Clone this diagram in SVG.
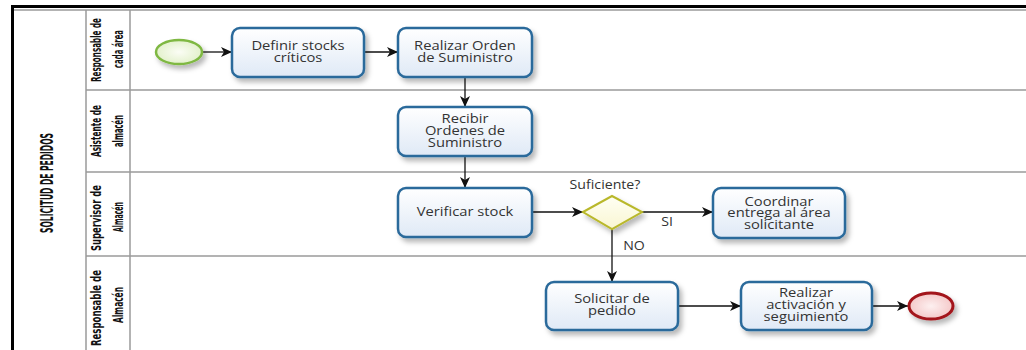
<svg xmlns="http://www.w3.org/2000/svg" width="1026" height="350" viewBox="0 0 1026 350">
<style>
.lane{stroke:#9a9a9a;stroke-width:1.5;fill:none}
.task{fill:url(#tg);stroke:#2b6a9b;stroke-width:2.5}
.tt{font-family:"Open Sans","Noto Sans",sans-serif;font-size:12.5px;fill:#333;text-anchor:middle}
.lbl{font-family:"Open Sans","Noto Sans",sans-serif;font-size:12px;fill:#333;text-anchor:middle}
.ln{font-family:"Liberation Sans Narrow","DejaVu Sans Condensed",sans-serif;font-weight:bold;font-size:11px;fill:#111;text-anchor:middle}
.pt{font-family:"Liberation Sans Narrow","DejaVu Sans Condensed",sans-serif;font-weight:bold;font-size:13px;fill:#111;text-anchor:middle}
.con{stroke:#111;stroke-width:1.3;fill:none;marker-end:url(#ah)}
</style>
<defs>
<linearGradient id="tg" x1="0" y1="0" x2="0" y2="1"><stop offset="0" stop-color="#ffffff"/><stop offset="1" stop-color="#dfe9f6"/></linearGradient>
<radialGradient id="sg"><stop offset="0" stop-color="#fbfdf5"/><stop offset="1" stop-color="#e3f1cc"/></radialGradient>
<radialGradient id="eg"><stop offset="0" stop-color="#fdf0f0"/><stop offset="1" stop-color="#f4c9c9"/></radialGradient>
<linearGradient id="dg" x1="0" y1="0" x2="0" y2="1"><stop offset="0" stop-color="#fffff4"/><stop offset="1" stop-color="#f9f6d2"/></linearGradient>
<filter id="sh" x="-20%" y="-20%" width="150%" height="160%"><feDropShadow dx="3" dy="4" stdDeviation="2.5" flood-color="#000" flood-opacity="0.28"/></filter>
<marker id="ah" markerUnits="userSpaceOnUse" markerWidth="12" markerHeight="10" refX="11" refY="5" orient="auto"><path d="M0,0 L11,5 L0,10 L3,5 z" fill="#111"/></marker>
</defs>
<rect width="1026" height="350" fill="#fff"/>
<g id="pool">
<line x1="14" y1="10" x2="1026" y2="10" stroke="#9a9a9a" stroke-width="1.5"/>
<line x1="11" y1="6.5" x2="1026" y2="6.5" stroke="#000" stroke-width="3"/>
<line x1="12.5" y1="5" x2="12.5" y2="350" stroke="#000" stroke-width="3"/>
<line class="lane" x1="86" y1="10" x2="86" y2="350"/>
<line class="lane" x1="130" y1="10" x2="130" y2="350"/>
<line class="lane" x1="86" y1="90" x2="1026" y2="90"/>
<line class="lane" x1="86" y1="172" x2="1026" y2="172"/>
<line class="lane" x1="86" y1="256" x2="1026" y2="256"/>
<text class="pt" transform="translate(53,183) scale(1.35,1) rotate(-90)" textLength="100" lengthAdjust="spacingAndGlyphs">SOLICITUD DE PEDIDOS</text>
</g>
<g id="lane1">
<text class="ln" transform="translate(101,50) scale(1.3,1) rotate(-90)" textLength="64" lengthAdjust="spacingAndGlyphs">Responsable de</text>
<text class="ln" transform="translate(123,49) scale(1.3,1) rotate(-90)" textLength="38" lengthAdjust="spacingAndGlyphs">cada área</text>
</g>
<g id="lane2">
<text class="ln" transform="translate(101,131) scale(1.3,1) rotate(-90)" textLength="52" lengthAdjust="spacingAndGlyphs">Asistente de</text>
<text class="ln" transform="translate(123,131) scale(1.3,1) rotate(-90)" textLength="32" lengthAdjust="spacingAndGlyphs">almacén</text>
</g>
<g id="lane3">
<text class="ln" transform="translate(101,218) scale(1.3,1) rotate(-90)" textLength="66" lengthAdjust="spacingAndGlyphs">Supervisor de</text>
<text class="ln" transform="translate(123,217) scale(1.3,1) rotate(-90)" textLength="30" lengthAdjust="spacingAndGlyphs">Almacén</text>
</g>
<g id="lane4">
<text class="ln" transform="translate(101,308) scale(1.3,1) rotate(-90)" textLength="76" lengthAdjust="spacingAndGlyphs">Responsable de</text>
<text class="ln" transform="translate(123,305) scale(1.3,1) rotate(-90)" textLength="36" lengthAdjust="spacingAndGlyphs">Almacén</text>
</g>
<g id="connectors">
<line class="con" x1="202" y1="52" x2="232" y2="52"/>
<line class="con" x1="364" y1="52" x2="398" y2="52"/>
<line class="con" x1="465" y1="77" x2="465" y2="107"/>
<line class="con" x1="465" y1="156" x2="465" y2="188"/>
<line class="con" x1="532" y1="212" x2="583" y2="212"/>
<line class="con" x1="642" y1="212" x2="713" y2="212"/>
<line class="con" x1="612" y1="229" x2="612" y2="282"/>
<line class="con" x1="678" y1="306" x2="741" y2="306"/>
<line class="con" x1="872" y1="306" x2="908" y2="306"/>
<text class="lbl" transform="translate(667,226) scale(1.18,1)">SI</text>
<text class="lbl" transform="translate(634,250) scale(1.18,1)">NO</text>
</g>
<g id="start"><ellipse cx="179" cy="52" rx="23" ry="12" fill="url(#sg)" stroke="#7fb843" stroke-width="2.5" filter="url(#sh)"/></g>
<g id="t1"><rect class="task" x="232" y="28" width="132" height="49" rx="8" filter="url(#sh)"/><text class="tt" transform="translate(298,0) scale(1.18,1)"><tspan x="0" y="50">Definir stocks</tspan><tspan x="0" y="62">críticos</tspan></text></g>
<g id="t2"><rect class="task" x="398" y="28" width="134" height="49" rx="8" filter="url(#sh)"/><text class="tt" transform="translate(465,0) scale(1.18,1)"><tspan x="0" y="50">Realizar Orden</tspan><tspan x="0" y="62">de Suministro</tspan></text></g>
<g id="t3"><rect class="task" x="398" y="107" width="134" height="49" rx="8" filter="url(#sh)"/><text class="tt" transform="translate(465,0) scale(1.18,1)"><tspan x="0" y="123">Recibir</tspan><tspan x="0" y="135">Ordenes de</tspan><tspan x="0" y="147">Suministro</tspan></text></g>
<g id="t4"><rect class="task" x="398" y="188" width="134" height="49" rx="8" filter="url(#sh)"/><text class="tt" transform="translate(465,0) scale(1.18,1)" x="0" y="216">Verificar stock</text></g>
<g id="gw"><path d="M583,212 L612,196 L642,212 L612,229 Z" fill="url(#dg)" stroke="#b9b82c" stroke-width="2" filter="url(#sh)"/><text class="lbl" transform="translate(605,189) scale(1.18,1)">Suficiente?</text></g>
<g id="t5"><rect class="task" x="713" y="188" width="132" height="50" rx="8" filter="url(#sh)"/><text class="tt" transform="translate(779,0) scale(1.18,1)"><tspan x="0" y="206">Coordinar</tspan><tspan x="0" y="217.5">entrega al área</tspan><tspan x="0" y="229">solicitante</tspan></text></g>
<g id="t6"><rect class="task" x="546" y="282" width="132" height="48" rx="8" filter="url(#sh)"/><text class="tt" transform="translate(612,0) scale(1.18,1)"><tspan x="0" y="303">Solicitar de</tspan><tspan x="0" y="315">pedido</tspan></text></g>
<g id="t7"><rect class="task" x="741" y="282" width="131" height="48" rx="8" filter="url(#sh)"/><text class="tt" transform="translate(806,0) scale(1.18,1)"><tspan x="0" y="297">Realizar</tspan><tspan x="0" y="309">activación y</tspan><tspan x="0" y="321">seguimiento</tspan></text></g>
<g id="end"><ellipse cx="931" cy="306" rx="22" ry="13" fill="url(#eg)" stroke="#a3161b" stroke-width="3" filter="url(#sh)"/></g>
</svg>
